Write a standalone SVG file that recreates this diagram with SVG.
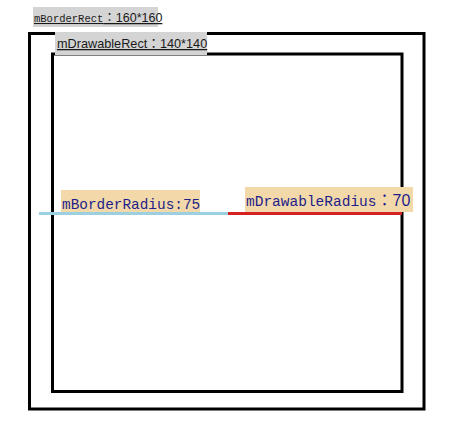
<svg xmlns="http://www.w3.org/2000/svg" width="470" height="432" viewBox="0 0 470 432">
<style>
.frame{fill:none;stroke:#000;stroke-width:3}
.gray{fill:#d4d4d4}
.tan{fill:#f3d9a9}
.sans{font-family:"Liberation Sans","Noto Sans CJK JP",sans-serif;fill:#1a1a1a;text-decoration:underline}
.mono{font-family:"Liberation Mono","DejaVu Sans Mono",monospace}
.navy{fill:#1e1e8a}
</style>
<rect width="470" height="432" fill="#fff"/>
<g id="border-rect">
<rect class="frame" x="29.5" y="33.5" width="394.5" height="375.5"/>
</g>
<g id="drawable-rect">
<rect class="frame" x="52.5" y="54" width="349.5" height="337.5"/>
</g>
<g id="border-rect-label">
<rect class="gray" x="33" y="7" width="125" height="20"/>
<text x="34" y="22" class="sans"><tspan class="mono" font-size="10.5">mBorderRect</tspan><tspan font-size="12.5">：160*160</tspan></text>
</g>
<g id="drawable-rect-label">
<rect class="gray" x="55" y="32" width="152" height="23"/>
<text x="57" y="48" class="sans" font-size="12.7">mDrawableRect：140*140</text>
</g>
<g id="connectors">
<line x1="39" y1="213.5" x2="228" y2="213.5" stroke="#9ccfe0" stroke-width="3"/>
<line x1="228" y1="213.5" x2="402" y2="213.5" stroke="#d42222" stroke-width="3"/>
</g>
<g id="border-radius-label">
<rect class="tan" x="61" y="190" width="139" height="22"/>
<text x="62" y="208.5" class="mono navy" font-size="14.4">mBorderRadius:75</text>
</g>
<g id="drawable-radius-label">
<rect class="tan" x="245" y="187" width="168" height="25"/>
<text x="246" y="206" class="navy"><tspan class="mono" font-size="14.5">mDrawableRadius</tspan><tspan font-family="Liberation Sans,Noto Sans CJK JP,sans-serif" font-size="16">：70</tspan></text>
</g>
</svg>
